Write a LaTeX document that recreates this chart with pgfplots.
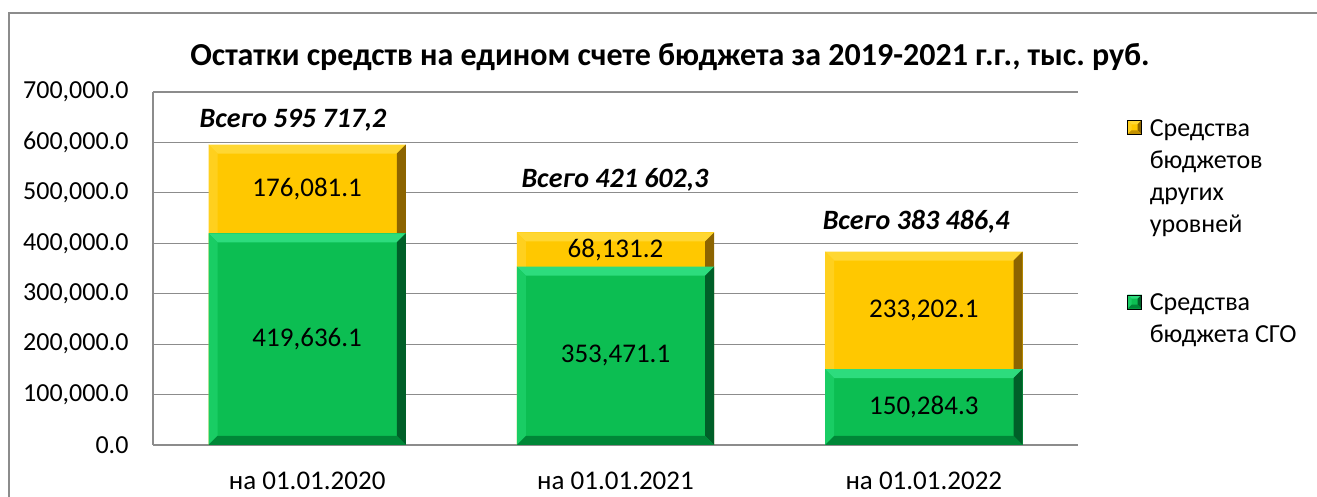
\documentclass[border=0pt]{standalone}
\usepackage{fontspec}
\setmainfont{Carlito}
\usepackage{pgfplots}
\pgfplotsset{compat=1.18}
\definecolor{grn}{RGB}{12,190,82}
\definecolor{grnL}{RGB}{45,220,125}
\definecolor{grnS}{RGB}{25,205,100}
\definecolor{grnR}{RGB}{0,95,40}
\definecolor{grnB}{RGB}{0,135,55}
\definecolor{yel}{RGB}{255,200,0}
\definecolor{yelL}{RGB}{255,215,50}
\definecolor{yelS}{RGB}{255,208,30}
\definecolor{yelR}{RGB}{140,100,0}
\definecolor{yelB}{RGB}{195,145,0}
\definecolor{gridc}{RGB}{140,140,140}
\frenchspacing
\def\bevw{9pt}
\def\BB#1{\pgfpointanchor{path picture bounding box}{#1}}
\def\BBs#1#2#3{\pgfpointadd{\pgfpointanchor{path picture bounding box}{#1}}{\pgfpoint{#2}{#3}}}
\newcommand\bevq[5]{\pgfsetfillcolor{#1}\pgfpathmoveto{#2}\pgfpathlineto{#3}\pgfpathlineto{#4}\pgfpathlineto{#5}\pgfpathclose\pgfusepath{fill}}
\tikzset{bevel/.style n args={4}{path picture={%
  \bevq{#1}{\BB{north west}}{\BB{north east}}{\BBs{north east}{-\bevw}{-\bevw}}{\BBs{north west}{\bevw}{-\bevw}}%
  \bevq{#2}{\BB{north west}}{\BBs{north west}{\bevw}{-\bevw}}{\BBs{south west}{\bevw}{\bevw}}{\BB{south west}}%
  \bevq{#3}{\BB{north east}}{\BB{south east}}{\BBs{south east}{-\bevw}{\bevw}}{\BBs{north east}{-\bevw}{-\bevw}}%
  \bevq{#4}{\BB{south west}}{\BB{south east}}{\BBs{south east}{-\bevw}{\bevw}}{\BBs{south west}{\bevw}{\bevw}}%
}}}
\pgfplotsset{base/.style={at={(153pt,52pt)}, anchor=south west,
  scale only axis, width=925pt, height=353pt,
  xmin=-0.5, xmax=2.5, ymin=0, ymax=700000},
  ybb/.style={ybar, bar width=0.64, bar shift=0pt, fill=yel, draw=none, bevel={yelL}{yelS}{yelR}{yelB}},
  gbb/.style={ybar, bar width=0.64, bar shift=0pt, fill=grn, draw=none, bevel={grnL}{grnS}{grnR}{grnB}}}
\begin{document}
\begin{tikzpicture}[x=1pt,y=1pt]
\useasboundingbox (0,0) rectangle (1317,497);
\draw[gridc, line width=1.5pt] (9,-5) -- (9,484) -- (1325,484);
\node[font=\fontsize{32}{36}\selectfont\bfseries] at (670,440) {Остатки средств на едином счете бюджета за 2019-2021 г.г., тыс. руб.};
\begin{axis}[
  base,
  ybar, bar width=0.64,
  xtick={0,1,2}, xticklabels={на 01.01.2020, на 01.01.2021, на 01.01.2022},
  ytick={0,100000,...,700000},
  scaled y ticks=false,
  yticklabel style={xshift=-21pt, /pgf/number format/.cd, fixed, fixed zerofill, precision=1, 1000 sep={,}, assume math mode=true},
  xticklabel style={yshift=-23pt, font=\fontsize{27}{30}\selectfont},
  ymajorgrids, grid style={gridc, line width=1.2pt},
  axis x line*=bottom, axis y line*=left,
  axis line style={gridc, line width=1.5pt},
  major tick length=0pt,
  tick label style={font=\fontsize{26}{30}\selectfont, text=black},
  legend style={at={(1.05,0.935)}, anchor=north west, draw=none, fill=none,
    font=\fontsize{26}{32}\selectfont, cells={anchor=west, align=left}, row sep=56pt,
    /tikz/every odd column/.append style={column sep=6pt}},
  legend image code/.code={\def\bevw{4pt}\draw[#1] (0pt,-6pt) rectangle (14pt,8pt);},
]
% yellow: bar up to the total (Средства бюджетов других уровней on top of green)
\addplot[ybb, legend image post style={yshift=48pt}] coordinates {(0,595717.2)};
\addlegendentry{Средства\\бюджетов\\других\\уровней}
\addplot[ybb, forget plot] coordinates {(1,421602.3)};
\addplot[ybb, forget plot] coordinates {(2,383486.4)};
% green: Средства бюджета СГО
\addplot[gbb, legend image post style={yshift=16pt}] coordinates {(0,419636.1)};
\addlegendentry{Средства\\бюджета СГО}
\addplot[gbb, forget plot] coordinates {(1,353471.1)};
\addplot[gbb, forget plot] coordinates {(2,150284.3)};
\end{axis}
\begin{axis}[base, hide axis, clip=false]
\addplot[draw=none, mark=none, point meta=explicit symbolic, nodes near coords, nodes near coords align={center},
  every node near coord/.append style={font=\fontsize{27}{30}\selectfont, text=black}]
  coordinates {(0,209818)[419,636.1] (0,507677)[176,081.1] (1,176736)[353,471.1] (1,387537)[68,131.2] (2,75142)[150,284.3] (2,266885)[233,202.1]};
\addplot[draw=none, mark=none, point meta=explicit symbolic, nodes near coords, nodes near coords align={center},
  every node near coord/.append style={font=\fontsize{28}{30}\selectfont\bfseries\itshape, text=black}]
  coordinates {(-0.046,645000)[Всего 595 717,2] (0.998,526000)[Всего 421 602,3] (1.975,442000)[Всего 383 486,4]};
\end{axis}
\end{tikzpicture}
\end{document}
